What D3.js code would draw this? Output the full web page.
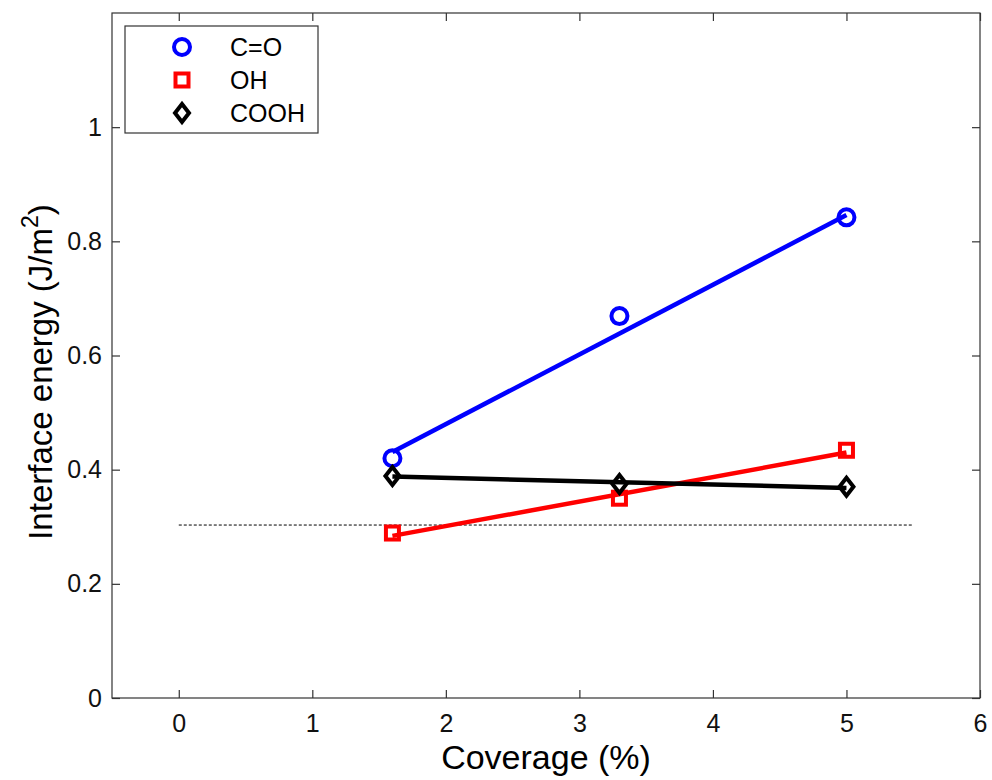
<!DOCTYPE html>
<html>
<head>
<meta charset="utf-8">
<script src="https://cdn.jsdelivr.net/npm/d3@7"></script>
<style>
  body { margin: 0; background: #fff; }
  text { font-family: "Liberation Sans", Arial, sans-serif; }
</style>
</head>
<body>
<div id="container"></div>
<script>
const width = 992;
const height = 780;
const margin = {top: 13, right: 12, bottom: 82, left: 112};

// coverage (%) of each sample
const coverage = [1.6, 3.3, 5];
// measured interface energy (J/m^2)
const coValues = [0.42, 0.669, 0.842];
const ohValues = [0.289, 0.35, 0.434];
const coohValues = [0.389, 0.375, 0.37];
// fitted lines, read at the ends x = 1.6 and x = 5
const fitX = [1.6, 5];
const coFit = [0.431, 0.846];
const ohFit = [0.284, 0.430];
const coohFit = [0.388, 0.368];
// reference level (dashed)
const refX = [0, 5.5];
const refY = [0.303, 0.303];

const xTicks = [0, 1, 2, 3, 4, 5, 6];
const yTicks = [0, 0.2, 0.4, 0.6, 0.8, 1];

const series = [
  {name: "C=O", values: coValues, fit: coFit, color: "#0000ff", symbol: "circle"},
  {name: "OH", values: ohValues, fit: ohFit, color: "#ff0000", symbol: "square"},
  {name: "COOH", values: coohValues, fit: coohFit, color: "#000000", symbol: "diamond"}
];

const x = d3.scaleLinear().domain([-0.5, 6]).range([margin.left, width - margin.right]);
const y = d3.scaleLinear().domain([0, 1.2]).range([height - margin.bottom, margin.top]);

const svg = d3.select("#container")
              .append("svg")
              .attr("width", width)
              .attr("height", height);

const line = d3.line()
               .x(d => x(d[0]))
               .y(d => y(d[1]));

// dashed reference line
svg.append("path")
   .attr("d", line(d3.zip(refX, refY)))
   .attr("fill", "none")
   .attr("stroke", "#000")
   .attr("stroke-width", 1)
   .attr("stroke-dasharray", "3,2");

// fit lines
svg.selectAll(".fit")
   .data(series)
   .enter()
   .append("path")
   .attr("class", "fit")
   .attr("d", d => line(d3.zip(fitX, d.fit)))
   .attr("fill", "none")
   .attr("stroke", d => d.color)
   .attr("stroke-width", 4.5);

function marker(g, symbol, color) {
  if (symbol === "circle") {
    g.append("circle").attr("r", 8)
     .attr("fill", "none").attr("stroke", color).attr("stroke-width", 4);
  } else if (symbol === "square") {
    g.append("rect").attr("x", -6.5).attr("y", -6.5).attr("width", 13).attr("height", 13)
     .attr("fill", "none").attr("stroke", color).attr("stroke-width", 4);
  } else {
    g.append("path").attr("d", "M0,-9L7,0L0,9L-7,0Z")
     .attr("fill", "none").attr("stroke", color).attr("stroke-width", 4);
  }
}

// data markers
series.forEach(s => {
  svg.append("g")
     .selectAll("g")
     .data(d3.zip(coverage, s.values))
     .enter()
     .append("g")
     .attr("transform", d => "translate(" + x(d[0]) + "," + y(d[1]) + ")")
     .each(function() { marker(d3.select(this), s.symbol, s.color); });
});

// axes box with inward ticks on all sides
const tickLen = 8;
const axisColor = "#333";
svg.append("rect")
   .attr("x", margin.left)
   .attr("y", margin.top)
   .attr("width", width - margin.left - margin.right)
   .attr("height", height - margin.top - margin.bottom)
   .attr("fill", "none")
   .attr("stroke", axisColor)
   .attr("stroke-width", 1.2);

svg.append("g")
   .attr("transform", "translate(0," + (height - margin.bottom) + ")")
   .call(d3.axisBottom(x).tickValues(xTicks).tickSizeInner(-tickLen).tickSizeOuter(0).tickPadding(16).tickFormat(d3.format("d")));
svg.append("g")
   .attr("transform", "translate(0," + margin.top + ")")
   .call(d3.axisTop(x).tickValues(xTicks).tickSizeInner(-tickLen).tickSizeOuter(0).tickFormat(""));
svg.append("g")
   .attr("transform", "translate(" + margin.left + ",0)")
   .call(d3.axisLeft(y).tickValues(yTicks).tickSizeInner(-tickLen).tickSizeOuter(0).tickPadding(10).tickFormat(d => d === 0 || d === 1 ? d3.format("d")(d) : d3.format(".1f")(d)));
svg.append("g")
   .attr("transform", "translate(" + (width - margin.right) + ",0)")
   .call(d3.axisRight(y).tickValues(yTicks).tickSizeInner(-tickLen).tickSizeOuter(0).tickFormat(""));

svg.selectAll(".domain").remove();
svg.selectAll(".tick line").attr("stroke", axisColor).attr("stroke-width", 1.2);
svg.selectAll(".tick text")
   .attr("font-size", 25)
   .attr("fill", "#111")
   .style("font-family", "'Liberation Sans', Arial, sans-serif");

// axis labels
svg.append("text")
   .attr("x", (margin.left + width - margin.right) / 2)
   .attr("y", 769)
   .attr("text-anchor", "middle")
   .attr("font-size", 34)
   .text("Coverage (%)");

const yLabel = svg.append("text")
   .attr("transform", "translate(52,372) rotate(-90)")
   .attr("text-anchor", "middle")
   .attr("font-size", 33);
yLabel.append("tspan").text("Interface energy (J/m");
yLabel.append("tspan").attr("font-size", 23).attr("dy", -14).text("2");
yLabel.append("tspan").attr("dy", 14).text(")");

// legend
const legend = svg.append("g").attr("transform", "translate(125,26)");
legend.append("rect")
      .attr("width", 193)
      .attr("height", 107)
      .attr("fill", "#fff")
      .attr("stroke", axisColor)
      .attr("stroke-width", 1.2);
const item = legend.selectAll(".legend-item")
      .data(series)
      .enter()
      .append("g")
      .attr("class", "legend-item")
      .attr("transform", (d, i) => "translate(0," + (21 + i * 33) + ")");
item.each(function(d) {
  const g = d3.select(this).append("g").attr("transform", "translate(57,0)");
  marker(g, d.symbol, d.color);
});
item.append("text")
    .attr("x", 105)
    .attr("y", 9)
    .attr("font-size", 25)
    .text(d => d.name);
</script>
</body>
</html>
